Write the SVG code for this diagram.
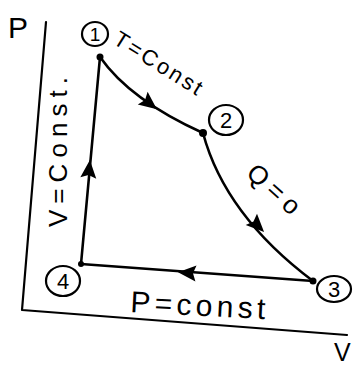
<svg xmlns="http://www.w3.org/2000/svg" width="354" height="365" viewBox="0 0 354 365">
<style>
.ln{fill:none;stroke:#000;stroke-width:2.6;stroke-linecap:round;stroke-linejoin:round}
.ax{fill:none;stroke:#000;stroke-width:2.2;stroke-linecap:round;stroke-linejoin:round}
.ring{fill:none;stroke:#000;stroke-width:2.2}
.dot{fill:#000}
.t{font-family:"Liberation Sans",Arial,sans-serif;fill:#000}
</style>
<defs>
<path id="ah" d="M10,0 L-8,-8 L-5,0 L-8,8 Z" fill="#000"/>
</defs>
<rect width="354" height="365" fill="#fff"/>
<g id="axes">
<path class="ax" d="M46,22 L22,310 L347,335"/>
<text class="t" x="8" y="38" font-size="30">P</text>
<text class="t" x="334" y="361" font-size="25">V</text>
</g>
<g id="connectors">
<path class="ln" d="M100,57 Q130,100 203,133"/>
<path class="ln" d="M203,133 Q225,215 313,281"/>
<path class="ln" d="M313,281 L81,264"/>
<path class="ln" d="M81,264 L100,57"/>
<use href="#ah" transform="translate(149,103) rotate(38)"/>
<use href="#ah" transform="translate(257,225) rotate(45)"/>
<use href="#ah" transform="translate(188,273) rotate(184)"/>
<use href="#ah" transform="translate(89,170) rotate(-85)"/>
<text class="t" font-size="22" textLength="100" lengthAdjust="spacing" transform="translate(112,43) rotate(32)">T=Const</text>
<text class="t" font-size="26" textLength="62" lengthAdjust="spacing" transform="translate(245,175) rotate(42)">Q=o</text>
<text class="t" font-size="26" textLength="150" lengthAdjust="spacing" transform="translate(67,227) rotate(-90)">V=Const.</text>
<text class="t" font-size="30" textLength="135" lengthAdjust="spacing" transform="translate(130,312) rotate(3)">P=const</text>
</g>
<g id="n1">
<circle class="dot" cx="100" cy="57" r="3.5"/>
<ellipse class="ring" cx="95" cy="34" rx="13" ry="12"/>
<text class="t" x="95" y="41" font-size="19" text-anchor="middle">1</text>
</g>
<g id="n2">
<circle class="dot" cx="203" cy="133" r="4"/>
<ellipse class="ring" cx="226" cy="120" rx="17" ry="15"/>
<text class="t" x="226" y="128" font-size="22" text-anchor="middle">2</text>
</g>
<g id="n3">
<circle class="dot" cx="313" cy="281" r="3.5"/>
<ellipse class="ring" cx="334" cy="289" rx="17" ry="13"/>
<text class="t" x="334" y="297" font-size="22" text-anchor="middle">3</text>
</g>
<g id="n4">
<circle class="dot" cx="81" cy="264" r="3"/>
<ellipse class="ring" cx="63" cy="281" rx="17" ry="15"/>
<text class="t" x="63" y="289" font-size="22" text-anchor="middle">4</text>
</g>
</svg>
